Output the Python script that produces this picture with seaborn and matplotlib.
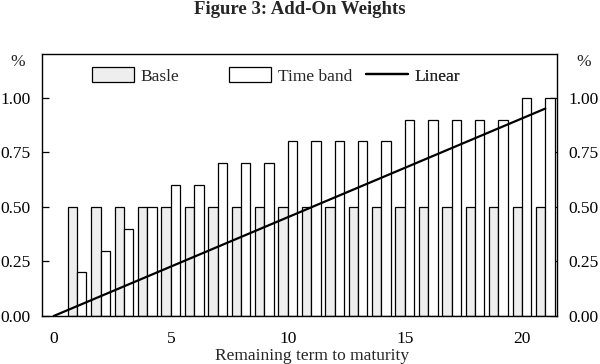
import pandas as pd
import seaborn as sns
import matplotlib
matplotlib.use("Agg")
import matplotlib.pyplot as plt
from matplotlib.patches import Patch
from matplotlib.lines import Line2D

# remaining term to maturity (years)
maturity = [1, 2, 3, 4, 5, 6, 7, 8, 9, 10, 11, 12, 13, 14, 15, 16, 17, 18, 19, 20, 21]
# add-on weights, per cent
basle = [0.5, 0.5, 0.5, 0.5, 0.5, 0.5, 0.5, 0.5, 0.5, 0.5, 0.5,
         0.5, 0.5, 0.5, 0.5, 0.5, 0.5, 0.5, 0.5, 0.5, 0.5]
time_band = [0.2, 0.3, 0.4, 0.5, 0.6, 0.6, 0.7, 0.7, 0.7, 0.8, 0.8,
             0.8, 0.8, 0.8, 0.9, 0.9, 0.9, 0.9, 0.9, 1.0, 1.0]
linear_x = [0, 21]
linear_y = [0.0, 0.95]
y_ticks = [0.0, 0.25, 0.5, 0.75, 1.0]
x_ticks = [0, 5, 10, 15, 20]

df = pd.DataFrame({
    "maturity": maturity * 2,
    "weight": basle + time_band,
    "scheme": ["Basle"] * len(maturity) + ["Time band"] * len(maturity),
})
line_df = pd.DataFrame({"maturity": linear_x, "weight": linear_y})

sns.set_theme(style="white")
plt.rcParams["font.family"] = ["Liberation Serif", "DejaVu Serif"]
fs = 12.5

fig, ax = plt.subplots(figsize=(6, 3.64), dpi=100)
fig.subplots_adjust(left=42 / 600, right=557 / 600, top=1 - 54 / 364, bottom=1 - 316 / 364)

basle_col = "#eeeeee"
sns.barplot(data=df, x="maturity", y="weight", hue="scheme", native_scale=True,
            palette={"Basle": basle_col, "Time band": "white"},
            width=0.8, edgecolor="black", linewidth=0.9, saturation=1,
            errorbar=None, legend=False, ax=ax)
sns.lineplot(data=line_df, x="maturity", y="weight", color="black", linewidth=1.6, ax=ax)

ax.set_xlim(-0.5, 21.5)
ax.set_ylim(0, 1.2)
ax.set_xticks(x_ticks)
ax.set_xticklabels([str(t) for t in x_ticks])
ax.set_yticks(y_ticks)
ax.set_yticklabels([f"{t:.2f}" for t in y_ticks])
ax.tick_params(axis="y", direction="in", length=5, width=0.9, left=True, right=True,
               labelleft=True, labelright=True, pad=8, labelsize=fs, colors="black")
ax.tick_params(axis="x", direction="in", length=0, pad=11, labelsize=fs, colors="black")
# the label sits a little right of the axis centre in the original
ax.set_xlabel("Remaining term to maturity", fontsize=fs, labelpad=0.5, x=0.524)
ax.set_ylabel("")
for s in ax.spines.values():
    s.set_color("black")
    s.set_linewidth(1.0)

# legend: three equally spaced slots along the top of the plot
handles = [Patch(facecolor=basle_col, edgecolor="black", linewidth=0.9),
           Patch(facecolor="white", edgecolor="black", linewidth=0.9),
           Line2D([], [], color="black", linewidth=1.6)]
labels = ["Basle", "Time band", "Linear"]
slots = [0.097, 0.363, 0.629]
for h, lab, x0 in zip(handles, labels, slots):
    leg = ax.legend([h], [lab], frameon=False, loc="center left",
                    bbox_to_anchor=(x0, 0.916), fontsize=fs, borderpad=0,
                    borderaxespad=0, handlelength=2.4, handleheight=0.95,
                    handletextpad=0.4)
    ax.add_artist(leg)

fig.text(0.5, 1 - 10 / 364, "Figure 3: Add-On Weights", ha="center", va="center",
         fontsize=13.5, fontweight="bold")
fig.text(18 / 600, 1 - 62 / 364, "%", ha="center", va="center", fontsize=fs)
fig.text(584 / 600, 1 - 62 / 364, "%", ha="center", va="center", fontsize=fs)

fig.savefig("out.png", dpi=100)
